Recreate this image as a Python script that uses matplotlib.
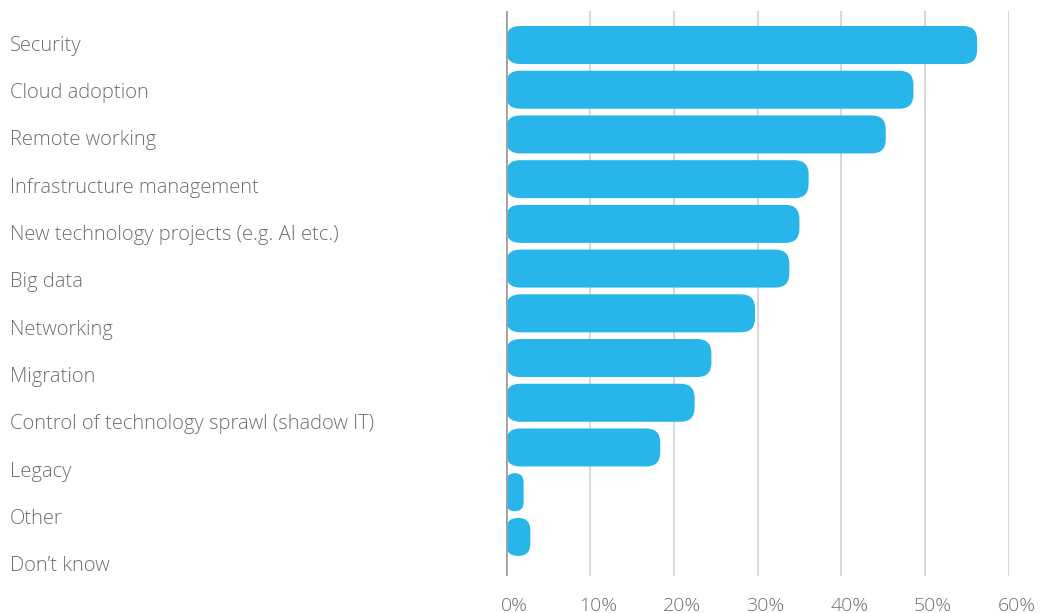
import matplotlib
matplotlib.use("Agg")
import matplotlib.pyplot as plt
from matplotlib.patches import FancyBboxPatch
from matplotlib.transforms import ScaledTranslation

categories = ["Security", "Cloud adoption", "Remote working", "Infrastructure management",
              "New technology projects (e.g. AI etc.)", "Big data", "Networking", "Migration",
              "Control of technology sprawl (shadow IT)", "Legacy", "Other", "Don\u2019t know"]
values = [56.2, 48.6, 45.3, 36.1, 35.0, 33.8, 29.7, 24.5, 22.5, 18.4, 2.1, 2.9]
xticks = [0, 10, 20, 30, 40, 50, 60]
xticklabels = ["0%", "10%", "20%", "30%", "40%", "50%", "60%"]

BAR = "#28b6ea"
TXT = "#6d6e71"
FONT = "Open Sans"
FW = "light"
FS = 14.5
FS_TICK = 14
W, H = 1040, 613

fig = plt.figure(figsize=(W / 100, H / 100), dpi=100)

# main bar axes (pixel geometry)
x0, x1 = 506, 1009
y_top, y_bot = 11, 576
ax = fig.add_axes([x0 / W, 1 - y_bot / H, (x1 - x0) / W, (y_bot - y_top) / H])
ax.set_xlim(0, 60)
c0, step = 45.0, 44.72
ylo = (y_top - c0) / step
yhi = (y_bot - c0) / step
ax.set_ylim(yhi, ylo)
for s in ax.spines.values():
    s.set_visible(False)
ax.set_yticks([])
ax.set_xticks(xticks)
ax.set_xticklabels(xticklabels)
ax.tick_params(axis="x", length=0, pad=15, labelsize=FS_TICK, labelcolor=TXT)
off = ScaledTranslation(8 / 100, 0, fig.dpi_scale_trans)
for lab in ax.get_xticklabels():
    lab.set_fontfamily(FONT)
    lab.set_fontweight(FW)
    lab.set_transform(lab.get_transform() + off)
for t in xticks[1:]:
    ax.axvline(t, color="#d4d4d4", lw=1.3, zorder=0)
ax.axvline(0, color="#a0a0a0", lw=2, zorder=3)

px_per_x = (x1 - x0) / 60.0
px_per_y = step
aspect = (1 / px_per_y) / (1 / px_per_x)
bar_h = 38 / step
r_px = 14
for i, v in enumerate(values):
    r = min(r_px / px_per_x, v / 2)
    p = FancyBboxPatch((0, i - bar_h / 2), v, bar_h,
                       boxstyle=f"round,pad=0,rounding_size={r}",
                       mutation_aspect=aspect, fc=BAR, ec="none", zorder=2)
    ax.add_patch(p)

# label axes
lc0, lstep = 45.5, 47.36
lax = fig.add_axes([10 / W, 1 - y_bot / H, 480 / W, (y_bot - y_top) / H])
lax.set_xlim(0, 1)
lax.set_ylim((y_bot - lc0) / lstep, (y_top - lc0) / lstep)
lax.axis("off")
for i, c in enumerate(categories):
    lax.text(0, i, c, ha="left", va="center", fontsize=FS, color=TXT,
             fontfamily=FONT, fontweight=FW)

fig.savefig("out.png", dpi=100)
